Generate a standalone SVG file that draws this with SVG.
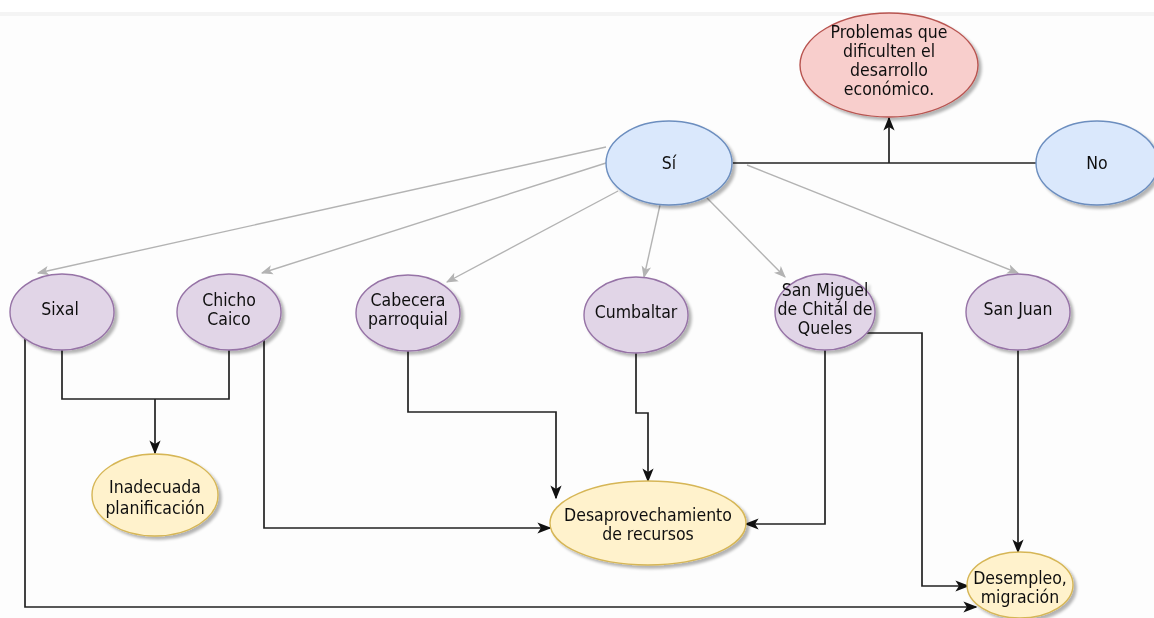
<svg xmlns="http://www.w3.org/2000/svg" width="1154" height="618" viewBox="0 0 1154 618">
<style>
text{font-family:"DejaVu Sans Condensed","DejaVu Sans","Liberation Sans",sans-serif;font-size:17.5px;fill:#111;text-anchor:middle}
.blue{fill:#dae8fc;stroke:#6c8ebf;stroke-width:1.4}
.red{fill:#f8cecc;stroke:#b85450;stroke-width:1.4}
.purple{fill:#e1d5e7;stroke:#9673a6;stroke-width:1.4}
.yellow{fill:#fff2cc;stroke:#d6b656;stroke-width:1.4}
.node{filter:url(#sh)}
.g{fill:none;stroke:#b3b3b3;stroke-width:1.4;marker-end:url(#ag)}
.k{fill:none;stroke:#222;stroke-width:1.7}
.ka{fill:none;stroke:#222;stroke-width:1.7;marker-end:url(#ak)}
</style>
<defs>
<filter id="sh" x="-20%" y="-20%" width="150%" height="150%">
<feGaussianBlur in="SourceAlpha" stdDeviation="1.5"/>
<feOffset dx="3" dy="3" result="o"/>
<feComponentTransfer><feFuncA type="linear" slope="0.3"/></feComponentTransfer>
<feMerge><feMergeNode/><feMergeNode in="SourceGraphic"/></feMerge>
</filter>
<marker id="ak" viewBox="0 0 10 10" refX="9" refY="5" markerWidth="14" markerHeight="14" markerUnits="userSpaceOnUse" orient="auto">
<path d="M0,1 L10,5 L0,9 L2.5,5 Z" fill="#111"/>
</marker>
<marker id="ag" viewBox="0 0 10 10" refX="9" refY="5" markerWidth="12" markerHeight="12" markerUnits="userSpaceOnUse" orient="auto">
<path d="M0,1 L10,5 L0,9 L2.5,5 Z" fill="#b3b3b3"/>
</marker>
</defs>
<rect x="0" y="0" width="1154" height="618" fill="#fff"/>
<rect x="0" y="12" width="1154" height="4" fill="#f4f4f4"/>
<rect x="0" y="16" width="1154" height="602" fill="#fdfdfd"/>

<g id="connectors">
<path class="g" d="M606,147 L38,273"/>
<path class="g" d="M606,163 L262,273"/>
<path class="g" d="M618,191 L447,282"/>
<path class="g" d="M660,205 L644,277"/>
<path class="g" d="M707,198 L785,277"/>
<path class="g" d="M747,165 L1018,273"/>
<path class="k" d="M733,163 H1037"/>
<path class="ka" d="M889,163 V118"/>
<path class="k" d="M62,350 V399 H229 V350"/>
<path class="ka" d="M155,399 V453"/>
<path class="ka" d="M25,339 V607 H976"/>
<path class="ka" d="M264,338 V528 H550"/>
<path class="ka" d="M408,351 V412 H556 V498"/>
<path class="ka" d="M636,353 V413 H648 V481"/>
<path class="ka" d="M825,350 V524 H746"/>
<path class="ka" d="M862,333 H922 V586 H968"/>
<path class="ka" d="M1018,350 V552"/>
</g>

<g id="problemas" class="node"><ellipse class="red" cx="889" cy="65" rx="89" ry="52"/>
<text x="889" y="38">Problemas que</text><text x="889" y="57">dificulten el</text><text x="889" y="76">desarrollo</text><text x="889" y="95">económico.</text></g>
<g id="si" class="node"><ellipse class="blue" cx="669" cy="163" rx="63" ry="42"/><text x="669" y="169">Sí</text></g>
<g id="no" class="node"><ellipse class="blue" cx="1097" cy="163" rx="61" ry="42"/><text x="1097" y="169">No</text></g>

<g id="sixal" class="node"><ellipse class="purple" cx="62" cy="312" rx="52" ry="38"/><text x="60" y="315">Sixal</text></g>
<g id="chicho" class="node"><ellipse class="purple" cx="229" cy="312" rx="52" ry="38"/><text x="229" y="306">Chicho</text><text x="229" y="325">Caico</text></g>
<g id="cabecera" class="node"><ellipse class="purple" cx="408" cy="313" rx="52" ry="38"/><text x="408" y="306">Cabecera</text><text x="408" y="325">parroquial</text></g>
<g id="cumbaltar" class="node"><ellipse class="purple" cx="636" cy="315" rx="52" ry="38"/><text x="636" y="318">Cumbaltar</text></g>
<g id="sanmiguel" class="node"><ellipse class="purple" cx="825" cy="312" rx="50" ry="38"/><text x="825" y="296">San Miguel</text><text x="825" y="315">de Chitál de</text><text x="825" y="334">Queles</text></g>
<g id="sanjuan" class="node"><ellipse class="purple" cx="1018" cy="312" rx="52" ry="38"/><text x="1018" y="315">San Juan</text></g>

<g id="inadecuada" class="node"><ellipse class="yellow" cx="155" cy="495" rx="63" ry="41"/><text x="155" y="493">Inadecuada</text><text x="155" y="514">planificación</text></g>
<g id="desaprovechamiento" class="node"><ellipse class="yellow" cx="648" cy="523" rx="98" ry="42"/><text x="648" y="521">Desaprovechamiento</text><text x="648" y="540">de recursos</text></g>
<g id="desempleo" class="node"><ellipse class="yellow" cx="1020" cy="585" rx="53" ry="33"/><text x="1020" y="584">Desempleo,</text><text x="1020" y="603">migración</text></g>
</svg>
